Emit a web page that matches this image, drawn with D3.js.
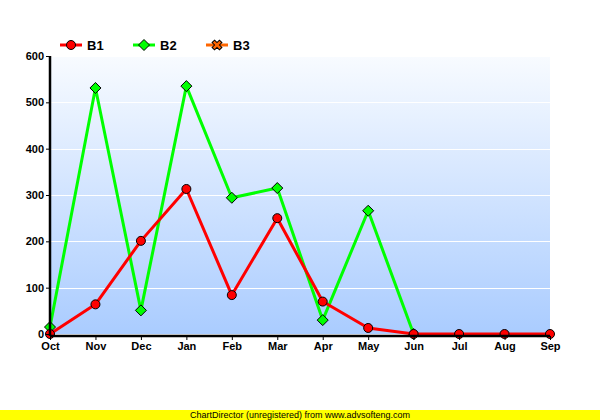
<!DOCTYPE html>
<html>
<head>
<meta charset="utf-8">
<script src="https://cdn.jsdelivr.net/npm/d3@7"></script>
<style>
  body { margin: 0; background: #fff; }
  text { font-family: "Liberation Sans", Arial, sans-serif; font-weight: bold; }
</style>
</head>
<body>
<div id="chart"></div>
<script>
// data
var months = ["Oct", "Nov", "Dec", "Jan", "Feb", "Mar", "Apr", "May", "Jun", "Jul", "Aug", "Sep"];
var b1 = [0, 64, 201, 313, 84, 250, 70, 13, 0, 0, 0, 0];
var b2 = [15, 531, 51, 535, 294, 315, 30, 266, 0, null, null, null];
var b3 = [null, null, null, null, null, null, null, null, null, null, null, null];
var yTicks = [0, 100, 200, 300, 400, 500, 600];

var width = 600, height = 420;
var margin = {top: 56, right: 50, bottom: 86, left: 50};

var svg = d3.select("#chart").append("svg")
    .attr("width", width)
    .attr("height", height);

var x = d3.scalePoint()
    .domain(months)
    .range([margin.left, width - margin.right]);

var y = d3.scaleLinear()
    .domain([0, 600])
    .range([height - margin.bottom, margin.top]);

// plot background gradient
var grad = svg.append("defs").append("linearGradient")
    .attr("id", "bg")
    .attr("x1", 0).attr("y1", 0).attr("x2", 0).attr("y2", 1);
grad.append("stop").attr("offset", "0%").attr("stop-color", "#f8fbff");
grad.append("stop").attr("offset", "100%").attr("stop-color", "#aaccff");

svg.append("rect")
    .attr("x", margin.left)
    .attr("y", margin.top)
    .attr("width", width - margin.left - margin.right)
    .attr("height", height - margin.top - margin.bottom)
    .attr("fill", "url(#bg)");

// white grid lines
svg.append("g")
    .selectAll("line")
    .data(yTicks.slice(1))
    .enter().append("line")
      .attr("x1", margin.left)
      .attr("x2", width - margin.right)
      .attr("y1", function(d) { return Math.round(y(d)) + 0.5; })
      .attr("y2", function(d) { return Math.round(y(d)) + 0.5; })
      .attr("stroke", "#fff")
      .attr("stroke-width", 1);

var series = [
  {name: "B2", values: b2, color: "#00ff00", marker: "diamond"},
  {name: "B1", values: b1, color: "#ff0000", marker: "circle"},
  {name: "B3", values: b3, color: "#ff6600", marker: "cross"}
];

function drawMarker(g, type, color, cx, cy) {
  if (type === "circle") {
    g.append("circle")
      .attr("cx", cx).attr("cy", cy).attr("r", 4.5)
      .attr("fill", color).attr("stroke", "#000").attr("stroke-width", 1);
  } else if (type === "diamond") {
    var s = 5.5;
    g.append("path")
      .attr("d", "M" + cx + "," + (cy - s) + "L" + (cx + s) + "," + cy + "L" + cx + "," + (cy + s) + "L" + (cx - s) + "," + cy + "Z")
      .attr("fill", color).attr("stroke", "#000").attr("stroke-width", 1);
  } else {
    g.append("path")
      .attr("d", d3.symbol().type(d3.symbolCross).size(60)())
      .attr("transform", "translate(" + cx + "," + cy + ") rotate(45)")
      .attr("fill", color).attr("stroke", "#000").attr("stroke-width", 1);
  }
}

var line = d3.line()
    .defined(function(d) { return d != null; })
    .x(function(d, i) { return x(months[i]); })
    .y(function(d) { return y(d); });

series.forEach(function(s) {
  var g = svg.append("g");
  g.append("path")
    .datum(s.values)
    .attr("d", line)
    .attr("fill", "none")
    .attr("stroke", s.color)
    .attr("stroke-width", 3)
    .attr("stroke-linejoin", "round");
  s.values.forEach(function(v, i) {
    if (v != null) drawMarker(g, s.marker, s.color, x(months[i]), y(v));
  });
});

// y axis
var yAxis = svg.append("g")
    .attr("transform", "translate(" + margin.left + ",0)")
    .call(d3.axisLeft(y).tickValues(yTicks).tickSize(4).tickPadding(2));
yAxis.select(".domain").attr("stroke-width", 2.5).attr("d", "M0," + y(600) + "V" + (y(0) + 2));
yAxis.selectAll(".tick line").attr("stroke-width", 1);
yAxis.selectAll("text").attr("font-size", 11).attr("fill", "#000")
    .style("font-family", "'Liberation Sans', Arial, sans-serif");

// x axis, drawn just under the zero line
var xAxis = svg.append("g")
    .attr("transform", "translate(0," + (y(0) + 2) + ")")
    .call(d3.axisBottom(x).tickSize(4).tickPadding(2));
xAxis.select(".domain").attr("stroke-width", 2.5).attr("d", "M" + margin.left + ",0H" + (width - margin.right));
xAxis.selectAll(".tick line").attr("stroke-width", 1);
xAxis.selectAll("text").attr("font-size", 11).attr("fill", "#000")
    .style("font-family", "'Liberation Sans', Arial, sans-serif");

// legend
var legendOrder = [series[1], series[0], series[2]];
var legend = svg.append("g")
    .selectAll("g")
    .data(legendOrder)
    .enter().append("g")
      .attr("transform", function(d, i) { return "translate(" + (60 + i * 73) + ",45)"; });

legend.append("line")
    .attr("x1", 0).attr("x2", 22)
    .attr("stroke", function(d) { return d.color; })
    .attr("stroke-width", 3);
legend.each(function(d) { drawMarker(d3.select(this), d.marker, d.color, 11, 0); });
legend.append("text")
    .attr("x", 27)
    .attr("dy", "0.36em")
    .attr("font-size", 13)
    .text(function(d) { return d.name; });

// footer
svg.append("rect")
    .attr("x", 0).attr("y", 410)
    .attr("width", width).attr("height", 10)
    .attr("fill", "#ffff00");
svg.append("text")
    .attr("x", width / 2)
    .attr("y", 418)
    .attr("text-anchor", "middle")
    .attr("font-size", 9)
    .style("font-weight", "normal")
    .text("ChartDirector (unregistered) from www.advsofteng.com");
</script>
</body>
</html>
